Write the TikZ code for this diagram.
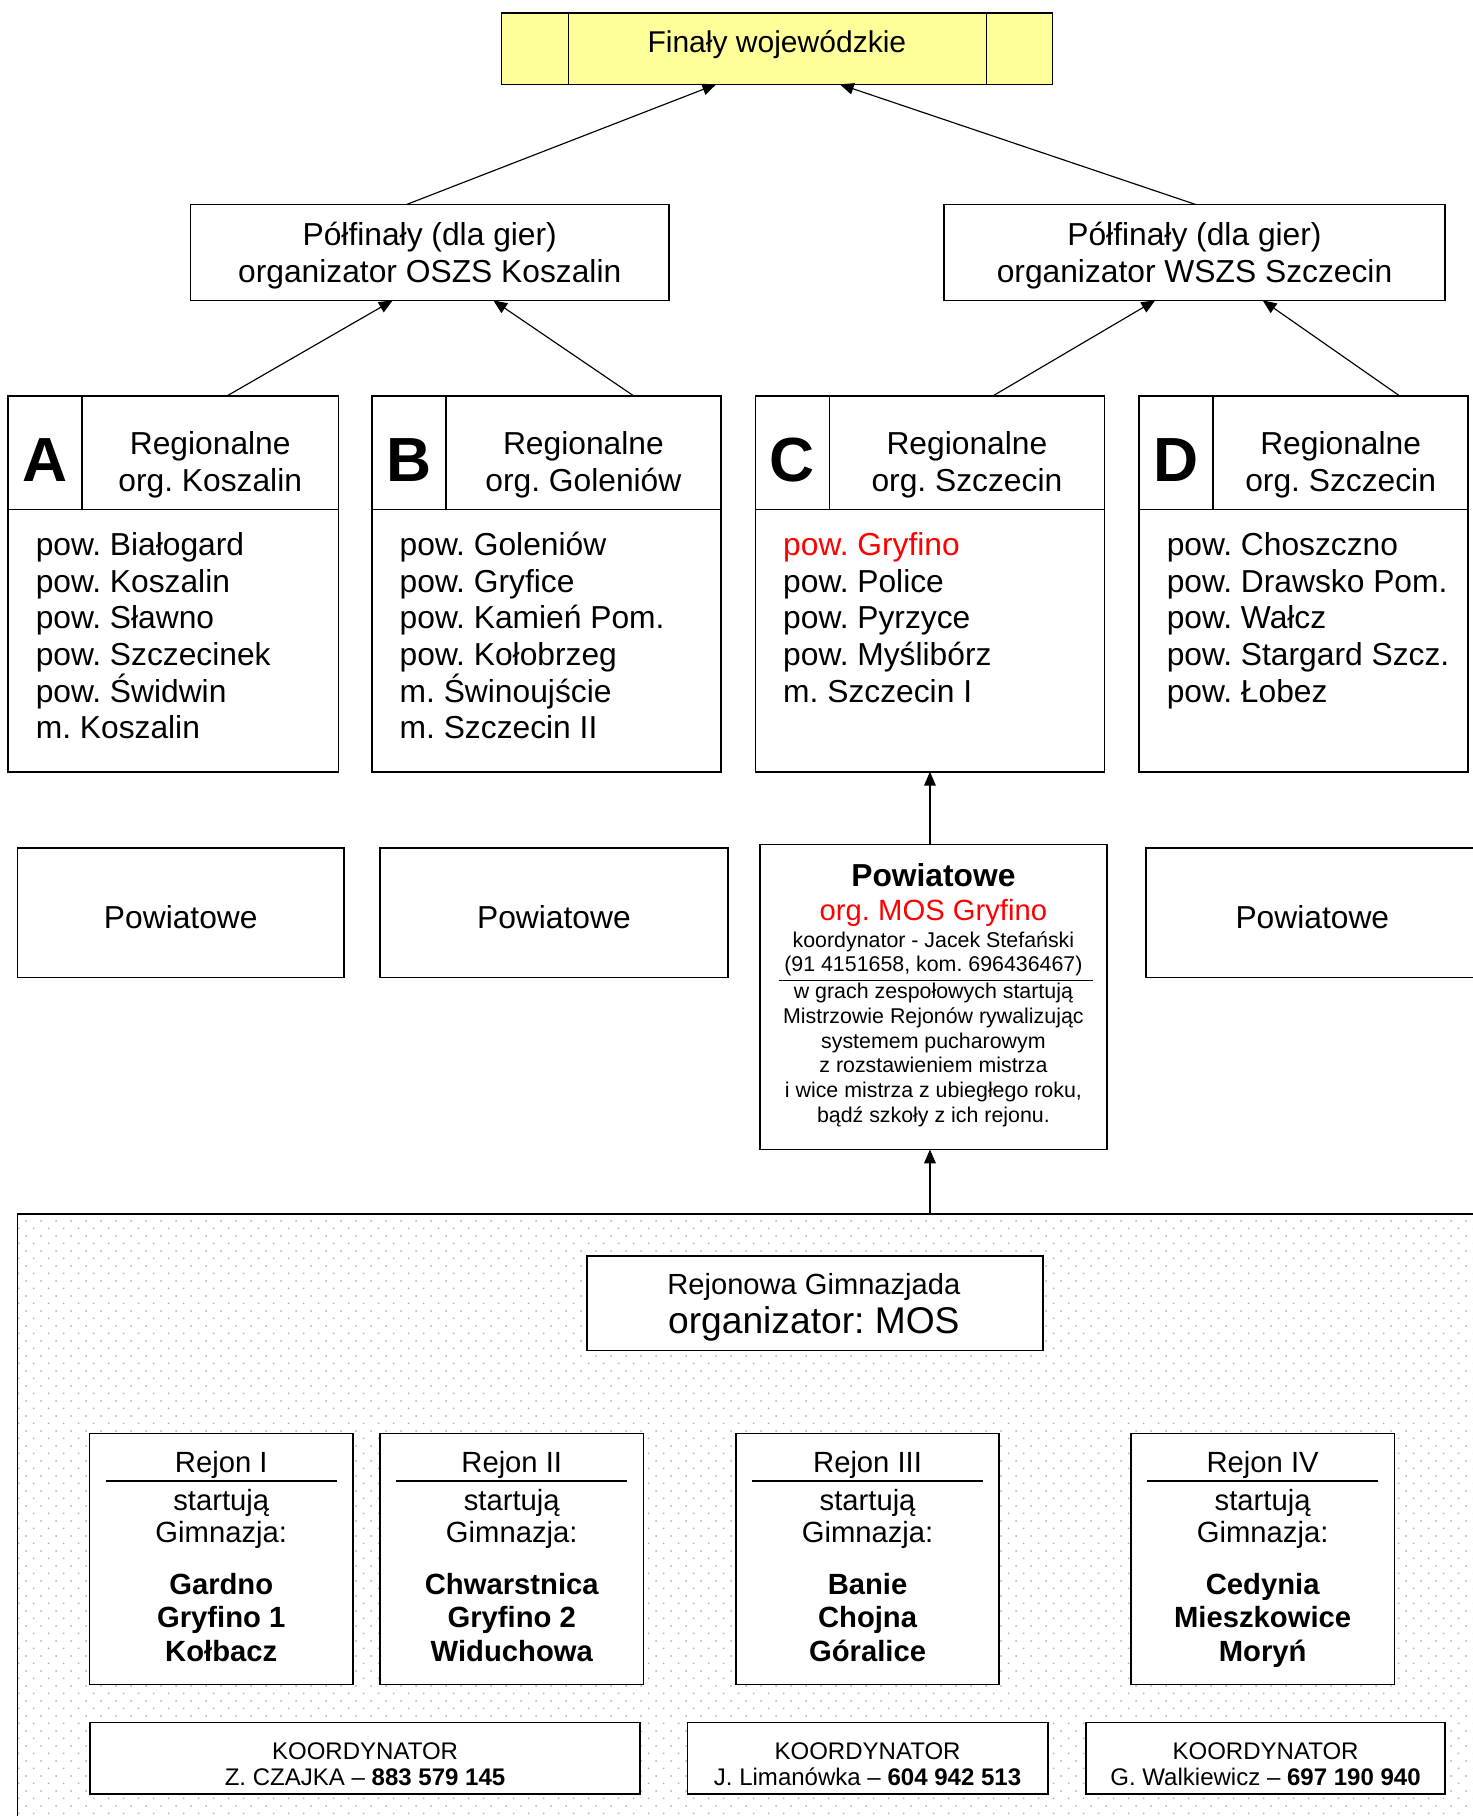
\documentclass[tikz,border=0pt]{standalone}
\usepackage{fontspec}
\setmainfont{Liberation Sans}
\usetikzlibrary{arrows.meta,patterns.meta,calc}
\frenchspacing
\definecolor{finyellow}{HTML}{FFFF99}
\newcommand\fntN{\fontsize{27.5}{31.7}\selectfont}
\newcommand\fntF{\fontsize{26}{30}\selectfont}
\newcommand\fntL{\fontsize{54}{60}\selectfont\bfseries}
\newcommand\fntS{\fontsize{18.5}{21.5}\selectfont}
\newcommand\fntR{\fontsize{25.3}{29}\selectfont}
\newcommand\fntK{\fontsize{20.8}{23}\selectfont}
\tikzdeclarepattern{
  name=bgdots,
  type=uncolored,
  bounding box={(0pt,0pt) and (13.3pt,13.3pt)},
  tile size={(13.3pt,13.3pt)},
  code={
    \pgfpathcircle{\pgfpoint{3.3pt}{3.3pt}}{0.9pt}
    \pgfpathcircle{\pgfpoint{9.95pt}{9.95pt}}{0.9pt}
    \pgfusepath{fill}
  }
}
\newcommand\regbox[6]{%
  \node[box, minimum width=#3pt, minimum height=325pt] (#1) at (#2,505.5) {};
  \draw[bline] ($(#1.north west)+(0,98)$) -- ($(#1.north east)+(0,98)$);
  \draw[bline] ($(#1.north west)+(64,0)$) -- ($(#1.north west)+(64,98)$);
  \node[txt, font=\fntL] (#1-L) at ($(#1.north west)+(32,55)$) {#4};
  \node[txt, align=center] (#1-H) at ($(#1.north)+(32,59.5)$) {Regionalne\\#5};
  \foreach \t [count=\i] in {#6}
    \node[txt, anchor=base west] (#1-\i) at ($(#1.north west)+(24,{138+31.7*(\i-1)})$) {\t};
}
\newcommand\rejbox[4]{%
  \node[box, minimum width=228pt, minimum height=217pt] (#1) at (#2,1349.5) {};
  \draw[bline] ($(#1.north west)+(14,41)$) -- ($(#1.north east)+(-14,41)$);
  \node[txt, font=\fntR, anchor=base] (#1-t) at ($(#1.north)+(0,34)$) {#3};
  \node[txt, font=\fntR, anchor=base] (#1-s) at ($(#1.north)+(0,66.7)$) {startują};
  \node[txt, font=\fntR, anchor=base] (#1-g) at ($(#1.north)+(0,94.6)$) {Gimnazja:};
  \foreach \t [count=\i] in {#4}
    \node[txt, font=\fntR\bfseries, anchor=base] (#1-\i) at ($(#1.north)+(0,{139+29.2*(\i-1)})$) {\t};
}
\begin{document}
\begin{tikzpicture}[x=1pt,y=-1pt,
  box/.style={draw, line width=1.4pt, inner sep=0pt, outer sep=0pt, fill=white},
  bline/.style={line width=1.4pt},
  arr/.style={-{Triangle[length=12pt,width=10pt]}, line width=1pt},
  txt/.style={inner sep=0pt, outer sep=0pt, font=\fntN},
]
\path[use as bounding box, clip] (0,0) rectangle (1275,1572);
\fill[white] (0,0) rectangle (1275,1572);

% bottom dotted region
\node[draw, line width=1.4pt, pattern=bgdots, pattern color=black!30,
      inner sep=0pt, outer sep=0pt, minimum width=1285pt, minimum height=549pt,
      anchor=north west] (reg) at (15,1051) {};

% finals
\node[box, fill=finyellow, minimum width=477pt, minimum height=62pt] (fin) at (672.5,42) {};
\node[txt, font=\fntF] (fin-t) at ($(fin.center)+(0,-3)$) {Finały wojewódzkie};
\draw[bline] ($(fin.north west)+(58,0)$) -- ($(fin.south west)+(58,0)$);
\draw[bline] ($(fin.north east)+(-57,0)$) -- ($(fin.south east)+(-57,0)$);

% semifinals
\node[box, minimum width=414pt, minimum height=83pt] (pl) at (372,218.5) {};
\node[txt, align=center] (pl-t) at ($(pl.center)+(0,3)$) {Półfinały (dla gier)\\organizator OSZS Koszalin};
\node[box, minimum width=434pt, minimum height=83pt] (pr) at (1034,218.5) {};
\node[txt, align=center] (pr-t) at ($(pr.center)+(0,3)$) {Półfinały (dla gier)\\organizator WSZS Szczecin};

\draw[arr] ([xshift=-20pt]pl.north) -- ([xshift=-52.5pt]fin.south);
\draw[arr] ([xshift=1pt]pr.north) -- ([xshift=54.5pt]fin.south);

% regional boxes
\regbox{rA}{150}{286}{A}{org. Koszalin}{pow. Białogard,pow. Koszalin,pow. Sławno,pow. Szczecinek,pow. Świdwin,m. Koszalin}
\regbox{rB}{473}{302}{B}{org. Goleniów}{pow. Goleniów,pow. Gryfice,pow. Kamień Pom.,pow. Kołobrzeg,m. Świnoujście,m. Szczecin II}
\regbox{rC}{805}{302}{C}{org. Szczecin}{\textcolor{red}{pow. Gryfino},pow. Police,pow. Pyrzyce,pow. Myślibórz,m. Szczecin I}
\regbox{rD}{1128.5}{285}{D}{org. Szczecin}{pow. Choszczno,pow. Drawsko Pom.,pow. Wałcz,pow. Stargard Szcz.,pow. Łobez}

\draw[arr] ([xshift=46pt]rA.north) -- ([xshift=-32pt]pl.south);
\draw[arr] ([xshift=76pt]rB.north) -- ([xshift=55pt]pl.south);
\draw[arr] ([xshift=54pt]rC.north) -- ([xshift=-34pt]pr.south);
\draw[arr] ([xshift=83.5pt]rD.north) -- ([xshift=59pt]pr.south);

% powiatowe
\node[box, minimum width=283pt, minimum height=112pt] (p1) at (156.5,790) {};
\node[txt] (p1-t) at ($(p1.center)+(0,4)$) {Powiatowe};
\node[box, minimum width=301pt, minimum height=112pt] (p2) at (479.5,790) {};
\node[txt] (p2-t) at ($(p2.center)+(0,4)$) {Powiatowe};
\node[box, minimum width=288pt, minimum height=112pt] (p4) at (1136,790) {};
\node[txt] (p4-t) at ($(p4.center)+(0,4)$) {Powiatowe};
\node[box, minimum width=300pt, minimum height=264pt] (p3) at (808,863) {};
\node[txt, font=\fntN\bfseries, anchor=base] (p3-a) at (808,767) {Powiatowe};
\node[txt, font=\fntR, text=red, anchor=base] (p3-b) at (808,796.5) {org. MOS Gryfino};
\node[txt, font=\fntS, anchor=base] (p3-c) at (808,820) {koordynator - Jacek Stefański};
\node[txt, font=\fntS, anchor=base] (p3-d) at (808,840.6) {(91 4151658, kom. 696436467)};
\draw[line width=1.2pt] ($(p3.north west)+(16,117.6)$) -- ($(p3.north east)+(-12,117.6)$);
\foreach \t [count=\i] in {w grach zespołowych startują,Mistrzowie Rejonów rywalizując,systemem pucharowym,z rozstawieniem mistrza,{i wice mistrza z ubiegłego roku,},{bądź szkoły z ich rejonu.}}
  \node[txt, font=\fntS, anchor=base] (p3-l\i) at (808,{864+21.6*(\i-1)}) {\t};

\draw[arr] ([xshift=-3pt]p3.north) -- (rC.south);
\draw[arr] ([xshift=-3pt]p3.south |- reg.north) -- ([xshift=-3pt]p3.south);

% rejonowa
\node[box, minimum width=395pt, minimum height=82pt] (rej) at (705.5,1128) {};
\node[txt, font=\fontsize{25.2}{30}\selectfont, anchor=base] (rej-a) at (704.5,1120.4) {Rejonowa Gimnazjada};
\node[txt, font=\fontsize{32.2}{36}\selectfont, anchor=base] (rej-b) at (704.5,1154) {organizator: MOS};

% rejony
\rejbox{r1}{191.5}{Rejon I}{Gardno,Gryfino 1,Kołbacz}
\rejbox{r2}{443}{Rejon II}{Chwarstnica,Gryfino 2,Widuchowa}
\rejbox{r3}{751}{Rejon III}{Banie,Chojna,Góralice}
\rejbox{r4}{1093}{Rejon IV}{Cedynia,Mieszkowice,Moryń}

% koordynatorzy
\node[box, minimum width=476pt, minimum height=62pt] (k1) at (316,1522) {};
\node[txt, align=center, font=\fntK] (k1-t) at ($(k1.center)+(0,5)$) {KOORDYNATOR\\Z. CZAJKA – \textbf{883 579 145}};
\node[box, minimum width=312pt, minimum height=62pt] (k2) at (751,1522) {};
\node[txt, align=center, font=\fntK] (k2-t) at ($(k2.center)+(0,5)$) {KOORDYNATOR\\J. Limanówka – \textbf{604 942 513}};
\node[box, minimum width=311pt, minimum height=62pt] (k3) at (1095.5,1522) {};
\node[txt, align=center, font=\fntK] (k3-t) at ($(k3.center)+(0,5)$) {KOORDYNATOR\\G. Walkiewicz – \textbf{697 190 940}};
\end{tikzpicture}
\end{document}
